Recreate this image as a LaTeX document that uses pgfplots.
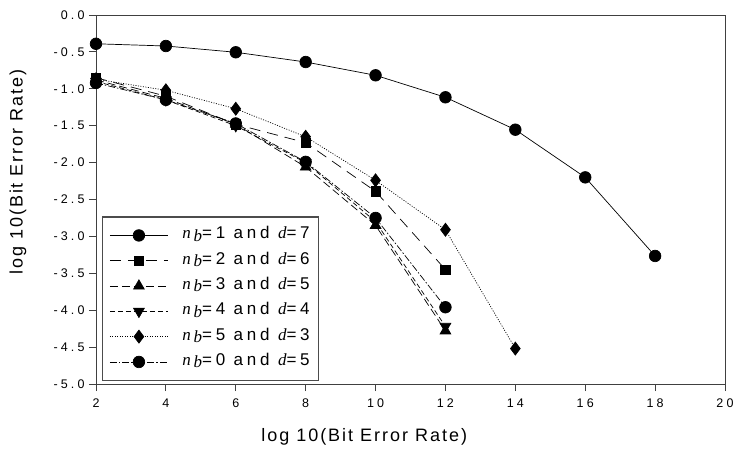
\documentclass[border=0pt]{standalone}
\usepackage{fontspec}
\setmainfont{Liberation Sans}
\newfontfamily\tnr[LetterSpace=22]{Liberation Serif}
\newfontfamily\legfont[LetterSpace=22]{Liberation Sans}
\newfontfamily\labfont[LetterSpace=11]{Liberation Sans}
\newfontfamily\tickfont[LetterSpace=25]{Liberation Sans}
\usepackage{pgfplots}
\pgfplotsset{compat=1.18}
\pgfplotsset{ll/.style={legend image code/.code={\draw[mark repeat=2,mark phase=2,##1] plot coordinates {(0bp,0bp) (29bp,0bp) (58bp,0bp)};}}}
\newcommand{\lab}[2]{{\tnr\itshape n\,\raisebox{-0.3ex}{b}}=#1 and {\tnr\itshape d}=#2}
\begin{document}
\begin{tikzpicture}
\useasboundingbox (-96bp,-68bp) rectangle (638bp,384bp);
\begin{axis}[
  at={(0,0)}, anchor=south west,
  scale only axis, width=629bp, height=369bp,
  xmin=2, xmax=20, ymin=-5, ymax=0,
  xtick={2,4,6,8,10,12,14,16,18,20},
  ytick={-5,-4.5,-4,-3.5,-3,-2.5,-2,-1.5,-1,-0.5,0},
  yticklabel style={xshift=-1bp, /pgf/number format/fixed, /pgf/number format/fixed zerofill, /pgf/number format/precision=1},
  /pgf/number format/assume math mode=true,
  tick label style={font=\tickfont\fontsize{12.5bp}{14bp}\selectfont},
  xticklabel style={yshift=-4bp},
  tick align=outside, xtick pos=bottom, ytick pos=left,
  major tick length=7bp,
  tick style={draw=black!75, line width=0.9bp},
  axis line style={draw=black!75, line width=0.9bp},
  xlabel={log 10(Bit Error Rate)},
  ylabel={log 10(Bit Error Rate)},
  xlabel style={font=\labfont\fontsize{18bp}{20bp}\selectfont, at={(axis description cs:0.4264,0)}, anchor=center, yshift=-53bp},
  ylabel style={font=\labfont\fontsize{18bp}{20bp}\selectfont, at={(axis description cs:-0.124,0.5745)}, anchor=center},
  legend cell align=left,
  legend style={at={(rel axis cs:0.0095,0.008)}, anchor=south west,
    draw=black!70, line width=1.2bp, inner xsep=7bp, inner ysep=9bp,
    font=\legfont\fontsize{17bp}{19bp}\selectfont,
    nodes={inner sep=2bp, text height=11bp, text depth=4bp},
    row sep=6.3bp,
    /tikz/every odd column/.append style={column sep=12bp}},
  every axis plot/.append style={black, line width=0.7bp},
]
\addplot[ll, solid, mark=*, mark size=5.8bp, mark options={solid}] coordinates {
 (2,-0.39) (4,-0.42) (6,-0.505) (8,-0.637) (10,-0.817) (12,-1.115) (14,-1.554) (16,-2.2) (18,-3.265)};
\addlegendentry{\lab{1}{7}}
\addplot[ll, dash pattern=on 11bp off 7bp, mark=square*, mark size=4.7bp, mark options={solid}] coordinates {
 (2,-0.85) (4,-1.10) (6,-1.48) (8,-1.73) (10,-2.39) (12,-3.45)};
\addlegendentry{\lab{2}{6}}
\addplot[ll, dash pattern=on 8bp off 4bp, mark=triangle*, mark size=6.2bp, mark options={solid}] coordinates {
 (2,-0.88) (4,-1.13) (6,-1.48) (8,-2.06) (10,-2.85) (12,-4.28)};
\addlegendentry{\lab{3}{5}}
\addplot[ll, dash pattern=on 5bp off 3bp, mark=triangle*, mark size=6.2bp, mark options={solid, rotate=180}] coordinates {
 (2,-0.90) (4,-1.15) (6,-1.50) (8,-2.00) (10,-2.80) (12,-4.22)};
\addlegendentry{\lab{4}{4}}
\addplot[ll, dash pattern=on 1bp off 1.5bp, mark=diamond*, mark size=6.5bp, mark options={solid}] coordinates {
 (2,-0.87) (4,-1.02) (6,-1.27) (8,-1.65) (10,-2.24) (12,-2.91) (14,-4.52)};
\addlegendentry{\lab{5}{3}}
\addplot[ll, dash pattern=on 7bp off 2bp on 1.5bp off 2bp, mark=*, mark size=5.8bp, mark options={solid}] coordinates {
 (2,-0.92) (4,-1.15) (6,-1.47) (8,-1.99) (10,-2.75) (12,-3.96)};
\addlegendentry{\lab{0}{5}}
\end{axis}
\end{tikzpicture}
\end{document}
